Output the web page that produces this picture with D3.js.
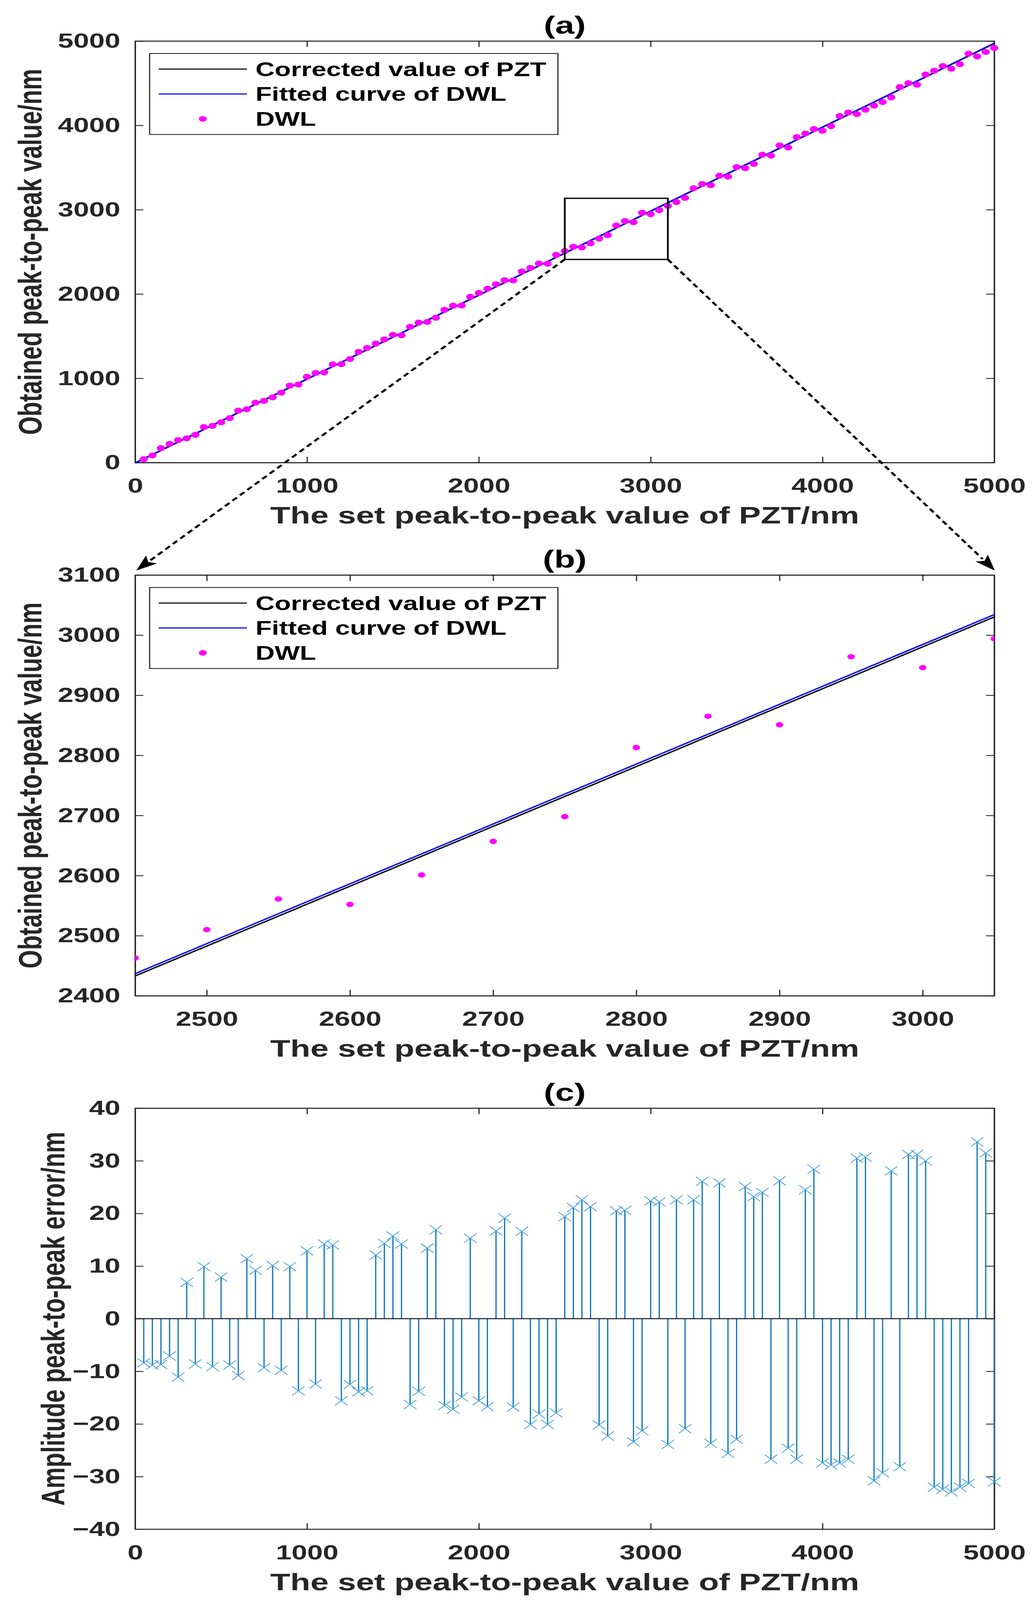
<!DOCTYPE html>
<html><head><meta charset="utf-8">
<script src="https://cdn.jsdelivr.net/npm/d3@7"></script>
<style>
html,body{margin:0;padding:0;background:#fff;overflow:hidden}
svg{display:block}
text{font-family:"Liberation Sans",Arial,Helvetica,sans-serif;font-weight:bold}
</style>
</head><body>
<svg id="fig" xmlns="http://www.w3.org/2000/svg"></svg>
<script>
// ---------------- data ----------------
const setValues = [50,100,150,200,250,300,350,400,450,500,550,600,650,700,750,800,850,900,950,1000,
1050,1100,1150,1200,1250,1300,1350,1400,1450,1500,1550,1600,1650,1700,1750,1800,1850,1900,1950,2000,
2050,2100,2150,2200,2250,2300,2350,2400,2450,2500,2550,2600,2650,2700,2750,2800,2850,2900,2950,3000,
3050,3100,3150,3200,3250,3300,3350,3400,3450,3500,3550,3600,3650,3700,3750,3800,3850,3900,3950,4000,
4050,4100,4150,4200,4250,4300,4350,4400,4450,4500,4550,4600,4650,4700,4750,4800,4850,4900,4950,5000];

const dwlValues = [41,86,173,222,267,288,330,422,436,478,528,617,634,711,732,775,830,914,927,1018,
1063,1070,1165,1168,1229,1314,1361,1412,1462,1516,1510,1611,1661,1669,1719,1812,1861,1863,1967,2013,
2063,2116,2163,2161,2267,2309,2362,2359,2463,2510,2561,2552,2601,2657,2698,2813,2865,2851,2964,2946,
2994,3045,3090,3140,3255,3304,3291,3403,3392,3506,3492,3543,3652,3641,3762,3738,3861,3903,3956,3936,
3990,4110,4152,4135,4186,4234,4277,4331,4454,4501,4482,4603,4648,4704,4672,4725,4851,4818,4870,4918];

const errorValues = [-8.4,-8.8,-8.7,-7.1,-11.1,6.9,-8.6,9.9,-9.1,7.9,-8.8,-10.8,11.4,9.2,-9.3,10.1,-9.8,9.9,-13.7,12.9,
-12.4,14.2,14.0,-15.6,-12.5,-13.9,-13.7,12.1,14.3,15.7,14.2,-16.3,-13.8,13.4,16.9,-16.5,-17.2,-14.9,15.3,-15.6,
-16.7,16.7,19.1,-16.8,16.6,-20.1,-18.1,-20.1,-17.9,19.4,21.1,22.6,21.3,-20.2,-22.3,20.5,20.6,-23.4,-21.3,22.4,
22.2,-23.9,22.6,-20.9,22.6,26.1,-23.7,25.8,-25.6,-22.9,25.1,23.2,24.0,-26.7,26.2,-24.6,-26.7,24.5,28.4,-27.4,
-27.8,-27.4,-26.7,30.5,30.7,-30.8,-29.3,28.1,-28.1,31.2,31.2,30.0,-32.0,-32.4,-32.9,-32.0,-31.3,33.6,31.5,-31.0];

const lineX = [0, 5000];
const correctedY = [-6, 4971.5];
const fittedY = [-2, 4975.5];

const ticksA = [0,1000,2000,3000,4000,5000];
const ticksBx = [2500,2600,2700,2800,2900,3000];
const ticksBy = [2400,2500,2600,2700,2800,2900,3000,3100];
const ticksCy = [-40,-30,-20,-10,0,10,20,30,40];

const zoomBoxX = [2500, 3100];
const zoomBoxY = [2410, 3135];

const legendLabels = ["Corrected value of PZT", "Fitted curve of DWL", "DWL"];
const titles = ["(a)", "(b)", "(c)"];
const xLabel = "The set peak-to-peak value of PZT/nm";
const yLabelAB = "Obtained peak-to-peak value/nm";
const yLabelC = "Amplitude peak-to-peak error/nm";

// ---------------- layout ----------------
const FW = 2644, FH = 5651;
const svg = d3.select("#fig")
  .attr("viewBox", `0 0 ${FW} ${FH}`)
  .attr("preserveAspectRatio", "none")
  .attr("width", window.innerWidth || FW)
  .attr("height", Math.min(window.innerHeight || FH, FH));
svg.append("rect").attr("width",FW).attr("height",FH).attr("fill","#fff");

const L = 346, R = 2545;
const P = {a:{top:145,bottom:1634}, b:{top:2031,bottom:3517}, c:{top:3914,bottom:5401}};
const AX = "#262626";
const FT = 72, FL = 84, FTI = 88, FLEG = 68;
const defs = svg.append("defs");

const xA = d3.scaleLinear().domain([0,5000]).range([L,R]);
const yA = d3.scaleLinear().domain([0,5000]).range([P.a.bottom,P.a.top]);
const xB = d3.scaleLinear().domain([2450,3050]).range([L,R]);
const yB = d3.scaleLinear().domain([2400,3100]).range([P.b.bottom,P.b.top]);
const xC = d3.scaleLinear().domain([0,5000]).range([L,R]);
const yC = d3.scaleLinear().domain([-40,40]).range([P.c.bottom,P.c.top]);

function axes(p, x, y, xt, yt, title, ylab, ylabX){
  const g = svg.append("g");
  const tl = 21;
  g.append("g").attr("transform",`translate(0,${p.bottom})`)
    .call(d3.axisBottom(x).tickValues(xt).tickSizeInner(-tl).tickSizeOuter(0).tickPadding(55).tickFormat(d3.format("d")));
  g.append("g").attr("transform",`translate(0,${p.top})`)
    .call(d3.axisTop(x).tickValues(xt).tickSizeInner(-tl).tickSizeOuter(0).tickFormat(""));
  g.append("g").attr("transform",`translate(${L},0)`)
    .call(d3.axisLeft(y).tickValues(yt).tickSizeInner(-tl).tickSizeOuter(0).tickPadding(38).tickFormat(d3.format("d")));
  g.append("g").attr("transform",`translate(${R},0)`)
    .call(d3.axisRight(y).tickValues(yt).tickSizeInner(-tl).tickSizeOuter(0).tickFormat(""));
  g.selectAll(".domain").attr("stroke",AX).attr("stroke-width",3.2);
  g.selectAll(".tick line").attr("stroke",AX).attr("stroke-width",3);
  g.selectAll(".tick text").attr("fill",AX).attr("font-size",FT)
    .attr("font-family",'"Liberation Sans",Arial,sans-serif').attr("font-weight","bold");
  g.append("rect").attr("x",L).attr("y",p.top).attr("width",R-L).attr("height",p.bottom-p.top)
    .attr("fill","none").attr("stroke",AX).attr("stroke-width",3.2);
  g.append("text").attr("x",(L+R)/2).attr("y",p.top-26).attr("text-anchor","middle")
    .attr("font-size",FTI).attr("fill","#000").text(title);
  g.append("text").attr("x",(L+R)/2).attr("y",p.bottom+215).attr("text-anchor","middle")
    .attr("font-size",FL).attr("fill",AX).text(xLabel);
  g.append("text").attr("transform",`translate(${ylabX},${(p.top+p.bottom)/2}) rotate(-90)`)
    .attr("text-anchor","middle").attr("font-size",FL).attr("fill",AX).text(ylab);
  return g;
}

function clip(id,p){
  defs.append("clipPath").attr("id",id).append("rect")
    .attr("x",L).attr("y",p.top).attr("width",R-L).attr("height",p.bottom-p.top);
}

function legend(p){
  const lx = L+37, ly = p.top+44;
  const g = svg.append("g");
  g.append("rect").attr("x",lx).attr("y",ly).attr("width",1045).attr("height",286)
    .attr("fill","#fff").attr("stroke",AX).attr("stroke-width",3);
  const rows = [55,143,231];
  const colors = ["#000","#0000ff"];
  [0,1].forEach(i=>{
    g.append("line").attr("x1",lx+23).attr("x2",lx+249).attr("y1",ly+rows[i]).attr("y2",ly+rows[i])
      .attr("stroke",colors[i]).attr("stroke-width",4);
  });
  g.append("circle").attr("cx",lx+136).attr("cy",ly+rows[2]).attr("r",10).attr("fill","#ff00ff");
  legendLabels.forEach((t,i)=>{
    g.append("text").attr("x",lx+271).attr("y",ly+rows[i]).attr("dy","0.36em")
      .attr("font-size",FLEG).attr("fill","#000").text(t);
  });
}

function lines(gp, x, y){
  const lc = d3.line().x(d=>x(d[0])).y(d=>y(d[1]));
  gp.append("path").datum(d3.zip(lineX,correctedY)).attr("d",lc)
    .attr("fill","none").attr("stroke","#000").attr("stroke-width",4.5);
  gp.append("path").datum(d3.zip(lineX,fittedY)).attr("d",lc)
    .attr("fill","none").attr("stroke","#0000ff").attr("stroke-width",4.5);
}

// ---------------- panel (a) ----------------
axes(P.a, xA, yA, ticksA, ticksA, titles[0], yLabelAB, 106);
const ga = svg.append("g");
lines(ga, xA, yA);
ga.selectAll("circle").data(d3.zip(setValues,dwlValues)).join("circle")
  .attr("cx",d=>xA(d[0])).attr("cy",d=>yA(d[1])).attr("r",10.5).attr("fill","#ff00ff");
ga.append("rect").attr("x",xA(zoomBoxX[0])).attr("y",yA(zoomBoxY[1]))
  .attr("width",xA(zoomBoxX[1])-xA(zoomBoxX[0])).attr("height",yA(zoomBoxY[0])-yA(zoomBoxY[1]))
  .attr("fill","none").attr("stroke","#000").attr("stroke-width",4.5);
legend(P.a);

// ---------------- panel (b) ----------------
clip("clipB",P.b);
axes(P.b, xB, yB, ticksBx, ticksBy, titles[1], yLabelAB, 106);
const gbp = svg.append("g").attr("clip-path","url(#clipB)");
lines(gbp, xB, yB);
gbp.selectAll("circle").data(d3.zip(setValues,dwlValues).filter(d=>d[0]>=2450&&d[0]<=3050)).join("circle")
  .attr("cx",d=>xB(d[0])).attr("cy",d=>yB(d[1])).attr("r",9.5).attr("fill","#ff00ff");
legend(P.b);

// ---------------- panel (c) ----------------
axes(P.c, xC, yC, ticksA, ticksCy, titles[2], yLabelC, 165);
const gc = svg.append("g");
const stemData = d3.zip(setValues,errorValues);
gc.selectAll("line.stem").data(stemData).join("line").attr("class","stem")
  .attr("x1",d=>xC(d[0])).attr("x2",d=>xC(d[0])).attr("y1",yC(0)).attr("y2",d=>yC(d[1]))
  .attr("stroke","#0072bd").attr("stroke-width",3);
gc.append("line").attr("x1",xC(0)).attr("x2",xC(5000)).attr("y1",yC(0)).attr("y2",yC(0))
  .attr("stroke","#000").attr("stroke-width",3);
const ms = 16;
gc.selectAll("path.mk").data(stemData).join("path").attr("class","mk")
  .attr("d",d=>{const cx=xC(d[0]),cy=yC(d[1]);
    return `M${cx-ms},${cy-ms}L${cx+ms},${cy+ms}M${cx-ms},${cy+ms}L${cx+ms},${cy-ms}`;})
  .attr("stroke","#4da3dc").attr("stroke-width",2.5).attr("fill","none");

// ---------------- zoom arrows ----------------
function arrow(x0,y0,x1,y1){
  const dx=x1-x0, dy=y1-y0, len=Math.hypot(dx,dy), ux=dx/len, uy=dy/len;
  const hl=55, hw=20;
  const bx=x1-ux*hl, by=y1-uy*hl;
  svg.append("line").attr("x1",x0).attr("y1",y0).attr("x2",bx+ux*4).attr("y2",by+uy*4)
    .attr("stroke","#000").attr("stroke-width",6.5).attr("stroke-dasharray","16 11");
  svg.append("path").attr("d",`M${x1},${y1}L${bx-uy*hw},${by+ux*hw}L${bx+ux*12},${by+uy*12}L${bx+uy*hw},${by-ux*hw}Z`)
    .attr("fill","#000");
}
arrow(xA(zoomBoxX[0]), yA(zoomBoxY[0]), xB(2450)+3, yB(3100)-16);
arrow(xA(zoomBoxX[1]), yA(zoomBoxY[0]), xB(3050)+1, yB(3100)-16);
</script>
</body></html>
